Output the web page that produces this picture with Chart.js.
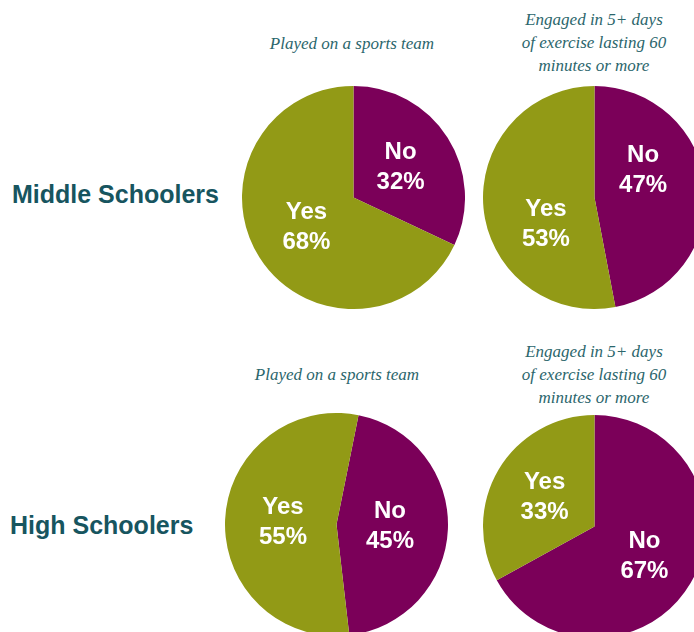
<!DOCTYPE html>
<html>
<head>
<meta charset="utf-8">
<script src="https://cdn.jsdelivr.net/npm/chart.js@4/dist/chart.umd.min.js"></script>
<style>
  html, body { margin: 0; padding: 0; overflow: hidden; background: #fff; }
  #page { position: relative; width: 694px; height: 632px; overflow: hidden; }
  .pie { position: absolute; width: 223px; height: 223px; }
  .row { position: absolute; font: bold 25px "Liberation Sans", Arial, sans-serif; color: #17555f; white-space: nowrap; }
  .ttl { position: absolute; width: 240px; text-align: center; font: italic 17px "Liberation Serif", serif; color: #2b666c; line-height: 23px; }
</style>
</head>
<body>
<div id="page">
  <div class="row" style="left:12px; top:180px;">Middle Schoolers</div>
  <div class="row" style="left:10px; top:511px;">High Schoolers</div>

  <div class="ttl" style="left:232px; top:32px;">Played on a sports team</div>
  <div class="ttl" style="left:474px; top:8px;">Engaged in 5+ days<br>of exercise lasting 60<br>minutes or more</div>
  <div class="ttl" style="left:217px; top:363px;">Played on a sports team</div>
  <div class="ttl" style="left:474px; top:340px;">Engaged in 5+ days<br>of exercise lasting 60<br>minutes or more</div>

  <canvas id="msTeam" class="pie" style="left:242px; top:86px;"></canvas>
  <canvas id="msExercise" class="pie" style="left:483px; top:86px;"></canvas>
  <canvas id="hsTeam" class="pie" style="left:225px; top:413px;"></canvas>
  <canvas id="hsExercise" class="pie" style="left:483px; top:415px;"></canvas>
</div>

<script>
// slices go clockwise from the top: No first, then Yes
var categories = ['No', 'Yes'];
var msTeam = [32, 68];
var msExercise = [47, 53];
var hsTeam = [45, 55];
var hsExercise = [67, 33];

var colors = ['#7b0059', '#929a16'];

// write "No / 32%" inside each slice
var sliceLabels = {
  id: 'sliceLabels',
  afterDatasetsDraw: function(chart, args, opts) {
    var ctx = chart.ctx;
    var meta = chart.getDatasetMeta(0);
    var values = chart.data.datasets[0].data;
    var shift = (opts.angleShift || 0) * Math.PI / 180;
    ctx.save();
    ctx.fillStyle = '#ffffff';
    ctx.font = 'bold 24px "Liberation Sans", Arial, sans-serif';
    ctx.textAlign = 'center';
    ctx.textBaseline = 'middle';
    meta.data.forEach(function(arc, i) {
      var mid = (arc.startAngle + arc.endAngle) / 2 + shift;
      var r = arc.outerRadius * (opts.dist || 0.5);
      var x = arc.x + Math.cos(mid) * r;
      var y = arc.y + Math.sin(mid) * r;
      ctx.fillText(chart.data.labels[i], x, y - 15);
      ctx.fillText(values[i] + '%', x, y + 15);
    });
    ctx.restore();
  }
};

function makePie(id, values, rotation, angleShift, dist) {
  var ctx = document.getElementById(id).getContext('2d');
  return new Chart(ctx, {
    type: 'pie',
    data: {
      labels: categories,
      datasets: [{
        data: values,
        backgroundColor: colors,
        borderWidth: 0,
        hoverOffset: 0,
        offset: 0
      }]
    },
    options: {
      responsive: false,
      animation: false,
      rotation: rotation,
      layout: { padding: 0 },
      plugins: {
        legend: { display: false },
        tooltip: { enabled: false },
        sliceLabels: { angleShift: angleShift, dist: dist }
      }
    },
    plugins: [sliceLabels]
  });
}

makePie('msTeam', msTeam, 0, 0, 0.5);
makePie('msExercise', msExercise, 0, -24, 0.5);
makePie('hsTeam', hsTeam, 11.4, 0, 0.48);
makePie('hsExercise', hsExercise, 0, 0, 0.52);
</script>
</body>
</html>
